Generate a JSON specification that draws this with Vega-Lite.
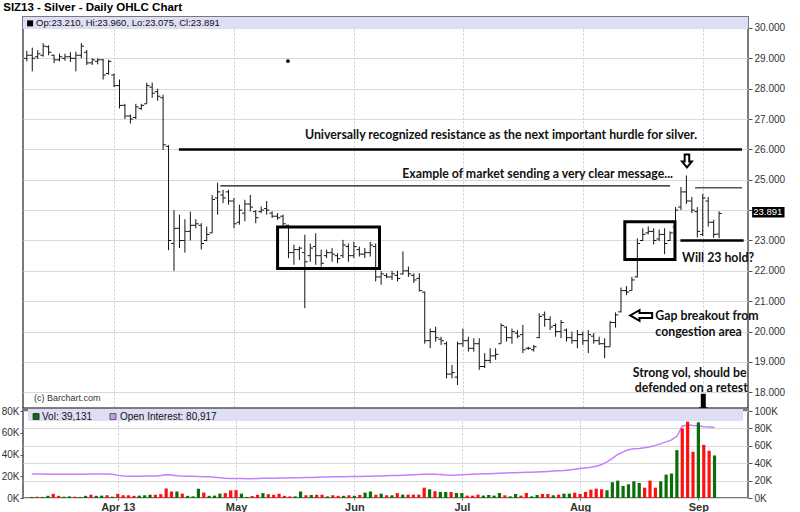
{
"$schema": "https://vega.github.io/schema/vega-lite/v6.json",
"padding": {"left": 0, "top": 1, "right": 5, "bottom": 0},
"background": "#ffffff",
"title": {"text": "SIZ13 - Silver - Daily OHLC Chart", "anchor": "start", "frame": "bounds", "font": "Liberation Sans", "fontSize": 11.5, "fontWeight": "bold", "color": "#000", "offset": 3, "dx": 3},
"spacing": 0,
"bounds": "flush",
"datasets": {"bars": [
{"i":-16,"o":29.0,"h":29.25,"l":28.9,"c":29.1,"v":1000,"up":1,"oi":27600},
{"i":-15,"o":29.1,"h":29.35,"l":28.57,"c":29.0,"v":1200,"up":0,"oi":27500},
{"i":-14,"o":29.05,"h":29.27,"l":28.98,"c":29.15,"v":1000,"up":1,"oi":27500},
{"i":-13,"o":29.1,"h":29.5,"l":29.05,"c":29.4,"v":2000,"up":1,"oi":27400},
{"i":-12,"o":29.38,"h":29.43,"l":29.1,"c":29.2,"v":3800,"up":0,"oi":27300},
{"i":-11,"o":29.1,"h":29.12,"l":28.84,"c":28.95,"v":2000,"up":0,"oi":27400},
{"i":-10,"o":28.95,"h":29.15,"l":28.9,"c":29.05,"v":1200,"up":1,"oi":27300},
{"i":-9,"o":29.0,"h":29.15,"l":28.92,"c":29.05,"v":1500,"up":1,"oi":27200},
{"i":-8,"o":29.05,"h":29.2,"l":28.88,"c":29.0,"v":1200,"up":0,"oi":27200},
{"i":-7,"o":29.0,"h":29.22,"l":28.57,"c":29.1,"v":1000,"up":1,"oi":27300},
{"i":-6,"o":29.1,"h":29.5,"l":29.0,"c":29.4,"v":2000,"up":1,"oi":27400},
{"i":-5,"o":29.2,"h":29.27,"l":28.78,"c":28.85,"v":3000,"up":0,"oi":27500},
{"i":-4,"o":28.85,"h":29.0,"l":28.78,"c":28.95,"v":2000,"up":1,"oi":27500},
{"i":-3,"o":28.9,"h":29.0,"l":28.8,"c":28.95,"v":2200,"up":1,"oi":27600},
{"i":-2,"o":28.95,"h":28.98,"l":28.3,"c":28.45,"v":2500,"up":0,"oi":27500},
{"i":-1,"o":28.5,"h":28.95,"l":28.46,"c":28.9,"v":1200,"up":1,"oi":27400},
{"i":0,"o":28.45,"h":28.5,"l":28.05,"c":28.1,"v":3800,"up":0,"oi":26000},
{"i":1,"o":28.1,"h":28.3,"l":27.35,"c":27.45,"v":2500,"up":0,"oi":25300},
{"i":2,"o":27.45,"h":27.5,"l":27.0,"c":27.1,"v":2500,"up":0,"oi":25100},
{"i":3,"o":27.1,"h":27.15,"l":26.85,"c":27.0,"v":2000,"up":0,"oi":25000},
{"i":4,"o":27.05,"h":27.5,"l":27.0,"c":27.4,"v":2200,"up":1,"oi":25000},
{"i":5,"o":27.35,"h":27.5,"l":27.3,"c":27.45,"v":2500,"up":1,"oi":25200},
{"i":6,"o":27.5,"h":28.2,"l":27.5,"c":28.1,"v":3000,"up":1,"oi":25300},
{"i":7,"o":28.05,"h":28.2,"l":27.7,"c":27.85,"v":3000,"up":0,"oi":25400},
{"i":8,"o":27.9,"h":28.0,"l":27.6,"c":27.75,"v":3500,"up":0,"oi":26000},
{"i":9,"o":27.7,"h":27.8,"l":25.98,"c":26.15,"v":8800,"up":0,"oi":26800},
{"i":10,"o":26.1,"h":26.14,"l":22.68,"c":23.0,"v":6000,"up":0,"oi":26500},
{"i":11,"o":22.9,"h":24.0,"l":22.0,"c":23.4,"v":6000,"up":1,"oi":25600},
{"i":12,"o":23.4,"h":23.85,"l":22.75,"c":23.0,"v":4000,"up":0,"oi":25200},
{"i":13,"o":23.0,"h":23.7,"l":22.6,"c":23.3,"v":2000,"up":1,"oi":25000},
{"i":14,"o":23.3,"h":23.95,"l":23.0,"c":23.5,"v":1500,"up":1,"oi":24900},
{"i":15,"o":23.5,"h":23.7,"l":23.4,"c":23.55,"v":8500,"up":1,"oi":24700},
{"i":16,"o":23.5,"h":23.57,"l":22.7,"c":22.9,"v":5000,"up":0,"oi":24500},
{"i":17,"o":23.0,"h":23.46,"l":22.97,"c":23.2,"v":2000,"up":1,"oi":24300},
{"i":18,"o":23.25,"h":24.5,"l":23.24,"c":24.35,"v":2200,"up":1,"oi":23800},
{"i":19,"o":24.4,"h":24.9,"l":23.85,"c":24.6,"v":4000,"up":1,"oi":23200},
{"i":20,"o":24.5,"h":24.67,"l":24.23,"c":24.4,"v":4500,"up":0,"oi":22700},
{"i":21,"o":24.6,"h":24.67,"l":24.18,"c":24.3,"v":7000,"up":0,"oi":22500},
{"i":22,"o":24.3,"h":24.4,"l":23.4,"c":23.55,"v":7200,"up":0,"oi":22400},
{"i":23,"o":23.6,"h":24.18,"l":23.52,"c":24.0,"v":4000,"up":1,"oi":22300},
{"i":24,"o":23.9,"h":24.34,"l":23.63,"c":24.2,"v":1000,"up":1,"oi":22100},
{"i":25,"o":24.2,"h":24.5,"l":23.96,"c":24.1,"v":1800,"up":0,"oi":22200},
{"i":26,"o":23.95,"h":24.0,"l":23.57,"c":23.75,"v":3000,"up":0,"oi":22400},
{"i":27,"o":23.95,"h":24.12,"l":23.9,"c":24.0,"v":4500,"up":1,"oi":22600},
{"i":28,"o":24.05,"h":24.3,"l":23.85,"c":24.0,"v":3500,"up":0,"oi":22700},
{"i":29,"o":23.9,"h":23.96,"l":23.74,"c":23.8,"v":3000,"up":0,"oi":22800},
{"i":30,"o":23.8,"h":23.9,"l":23.68,"c":23.75,"v":4000,"up":0,"oi":22900},
{"i":31,"o":23.8,"h":23.85,"l":23.46,"c":23.55,"v":2000,"up":0,"oi":23000},
{"i":32,"o":23.5,"h":23.52,"l":22.42,"c":22.6,"v":1500,"up":0,"oi":23200},
{"i":33,"o":22.6,"h":22.86,"l":22.2,"c":22.7,"v":1500,"up":1,"oi":23300},
{"i":34,"o":22.7,"h":22.8,"l":22.36,"c":22.75,"v":6000,"up":1,"oi":23400},
{"i":35,"o":22.6,"h":23.19,"l":20.77,"c":22.3,"v":2500,"up":0,"oi":23500},
{"i":36,"o":22.5,"h":22.9,"l":22.3,"c":22.75,"v":2800,"up":1,"oi":23600},
{"i":37,"o":22.8,"h":23.24,"l":22.2,"c":22.5,"v":3000,"up":0,"oi":23800},
{"i":38,"o":22.5,"h":22.7,"l":22.14,"c":22.25,"v":3000,"up":0,"oi":24000},
{"i":39,"o":22.5,"h":22.7,"l":22.42,"c":22.6,"v":1500,"up":1,"oi":24200},
{"i":40,"o":22.6,"h":22.75,"l":22.3,"c":22.55,"v":2500,"up":0,"oi":24300},
{"i":41,"o":22.5,"h":22.58,"l":22.25,"c":22.4,"v":2000,"up":0,"oi":24400},
{"i":42,"o":22.5,"h":23.02,"l":22.42,"c":22.85,"v":2000,"up":1,"oi":24500},
{"i":43,"o":22.8,"h":22.9,"l":22.3,"c":22.5,"v":2500,"up":0,"oi":24600},
{"i":44,"o":22.5,"h":22.96,"l":22.42,"c":22.8,"v":2000,"up":1,"oi":24700},
{"i":45,"o":22.7,"h":22.8,"l":22.47,"c":22.55,"v":2800,"up":0,"oi":24800},
{"i":46,"o":22.55,"h":22.75,"l":22.42,"c":22.6,"v":5000,"up":1,"oi":25000},
{"i":47,"o":22.6,"h":22.96,"l":22.47,"c":22.85,"v":6000,"up":1,"oi":25100},
{"i":48,"o":22.8,"h":22.9,"l":21.65,"c":21.8,"v":3000,"up":0,"oi":25300},
{"i":49,"o":21.8,"h":22.0,"l":21.54,"c":21.9,"v":4000,"up":1,"oi":25400},
{"i":50,"o":21.85,"h":21.92,"l":21.76,"c":21.8,"v":2500,"up":0,"oi":25600},
{"i":51,"o":21.8,"h":22.0,"l":21.7,"c":21.9,"v":2500,"up":1,"oi":25800},
{"i":52,"o":21.85,"h":22.0,"l":21.65,"c":21.75,"v":4500,"up":0,"oi":26000},
{"i":53,"o":21.9,"h":22.64,"l":21.87,"c":22.0,"v":3100,"up":1,"oi":26200},
{"i":54,"o":22.0,"h":22.14,"l":21.8,"c":21.9,"v":3100,"up":0,"oi":26500},
{"i":55,"o":21.85,"h":21.92,"l":21.6,"c":21.7,"v":3100,"up":0,"oi":26800},
{"i":56,"o":21.75,"h":21.92,"l":21.32,"c":21.35,"v":3100,"up":0,"oi":27000},
{"i":57,"o":21.3,"h":21.32,"l":19.6,"c":19.7,"v":9500,"up":0,"oi":27300},
{"i":58,"o":19.7,"h":20.1,"l":19.45,"c":20.0,"v":8000,"up":1,"oi":27400},
{"i":59,"o":20.0,"h":20.16,"l":19.67,"c":19.8,"v":6200,"up":0,"oi":27200},
{"i":60,"o":19.75,"h":19.83,"l":19.56,"c":19.7,"v":5500,"up":1,"oi":26900},
{"i":61,"o":19.6,"h":19.67,"l":18.46,"c":18.6,"v":5500,"up":1,"oi":26400},
{"i":62,"o":18.6,"h":18.9,"l":18.46,"c":18.65,"v":5500,"up":0,"oi":26100},
{"i":63,"o":18.5,"h":19.67,"l":18.24,"c":19.6,"v":4600,"up":1,"oi":26300},
{"i":64,"o":19.6,"h":20.1,"l":19.5,"c":19.7,"v":4600,"up":1,"oi":26700},
{"i":65,"o":19.7,"h":19.83,"l":19.34,"c":19.45,"v":2200,"up":0,"oi":27000},
{"i":66,"o":19.45,"h":19.78,"l":19.34,"c":19.6,"v":2200,"up":0,"oi":27300},
{"i":67,"o":19.6,"h":19.78,"l":18.74,"c":18.85,"v":3100,"up":0,"oi":27600},
{"i":68,"o":18.85,"h":19.29,"l":18.8,"c":19.05,"v":2200,"up":1,"oi":27800},
{"i":69,"o":19.05,"h":19.45,"l":18.96,"c":19.2,"v":2800,"up":1,"oi":28000},
{"i":70,"o":19.2,"h":19.45,"l":19.07,"c":19.25,"v":2200,"up":1,"oi":28200},
{"i":71,"o":19.6,"h":20.27,"l":19.6,"c":20.2,"v":4600,"up":1,"oi":28500},
{"i":72,"o":20.15,"h":20.16,"l":19.67,"c":19.8,"v":2500,"up":0,"oi":28700},
{"i":73,"o":19.8,"h":20.1,"l":19.6,"c":20.0,"v":1500,"up":1,"oi":28900},
{"i":74,"o":19.95,"h":20.05,"l":19.78,"c":19.85,"v":3700,"up":1,"oi":29100},
{"i":75,"o":19.9,"h":20.22,"l":19.29,"c":19.4,"v":2200,"up":0,"oi":29300},
{"i":76,"o":19.45,"h":19.5,"l":19.4,"c":19.45,"v":4600,"up":0,"oi":29500},
{"i":77,"o":19.4,"h":19.56,"l":19.34,"c":19.5,"v":1500,"up":1,"oi":29700},
{"i":78,"o":19.8,"h":20.6,"l":19.78,"c":20.5,"v":2800,"up":1,"oi":30000},
{"i":79,"o":20.55,"h":20.66,"l":20.16,"c":20.4,"v":3700,"up":0,"oi":30300},
{"i":80,"o":20.4,"h":20.5,"l":20.05,"c":20.15,"v":3700,"up":0,"oi":30600},
{"i":81,"o":20.2,"h":20.27,"l":19.83,"c":20.0,"v":2500,"up":1,"oi":30900},
{"i":82,"o":20.0,"h":20.38,"l":19.78,"c":20.3,"v":3100,"up":0,"oi":31300},
{"i":83,"o":20.05,"h":20.1,"l":19.67,"c":19.8,"v":4000,"up":1,"oi":31700},
{"i":84,"o":19.8,"h":20.0,"l":19.6,"c":19.7,"v":4000,"up":1,"oi":32300},
{"i":85,"o":19.7,"h":20.05,"l":19.45,"c":19.9,"v":4900,"up":0,"oi":33000},
{"i":86,"o":19.9,"h":20.0,"l":19.56,"c":19.7,"v":3700,"up":0,"oi":33800},
{"i":87,"o":19.7,"h":20.05,"l":19.29,"c":19.9,"v":5500,"up":0,"oi":34500},
{"i":88,"o":19.85,"h":19.95,"l":19.6,"c":19.7,"v":7700,"up":0,"oi":35300},
{"i":89,"o":19.7,"h":19.83,"l":19.56,"c":19.6,"v":8600,"up":0,"oi":36500},
{"i":90,"o":19.6,"h":19.78,"l":19.12,"c":19.5,"v":8000,"up":0,"oi":38500},
{"i":91,"o":19.5,"h":20.35,"l":19.5,"c":20.3,"v":7100,"up":1,"oi":41500},
{"i":92,"o":20.3,"h":20.63,"l":20.13,"c":20.55,"v":14500,"up":1,"oi":45500},
{"i":93,"o":20.65,"h":21.45,"l":20.63,"c":21.35,"v":16000,"up":1,"oi":50000},
{"i":94,"o":21.35,"h":21.5,"l":21.2,"c":21.3,"v":11100,"up":1,"oi":53000},
{"i":95,"o":21.35,"h":21.8,"l":21.34,"c":21.7,"v":12600,"up":1,"oi":55500},
{"i":96,"o":21.8,"h":23.07,"l":21.78,"c":22.9,"v":15400,"up":1,"oi":56500},
{"i":97,"o":23.0,"h":23.4,"l":22.98,"c":23.2,"v":13800,"up":1,"oi":57000},
{"i":98,"o":23.25,"h":23.46,"l":23.2,"c":23.3,"v":9500,"up":0,"oi":57800},
{"i":99,"o":23.3,"h":23.4,"l":22.87,"c":23.0,"v":16000,"up":0,"oi":59000},
{"i":100,"o":23.05,"h":23.36,"l":22.98,"c":23.2,"v":9500,"up":0,"oi":60500},
{"i":101,"o":23.2,"h":23.4,"l":22.55,"c":22.9,"v":15400,"up":1,"oi":62500},
{"i":102,"o":23.0,"h":23.3,"l":22.98,"c":23.25,"v":21500,"up":1,"oi":64500},
{"i":103,"o":23.45,"h":24.1,"l":23.4,"c":24.0,"v":22500,"up":1,"oi":66800},
{"i":104,"o":24.1,"h":24.76,"l":24.0,"c":24.6,"v":44000,"up":1,"oi":71000},
{"i":105,"o":24.6,"h":25.14,"l":24.2,"c":24.3,"v":64000,"up":0,"oi":82500},
{"i":106,"o":24.3,"h":24.43,"l":23.9,"c":24.0,"v":70200,"up":0,"oi":84000},
{"i":107,"o":23.95,"h":24.1,"l":23.1,"c":23.3,"v":42500,"up":0,"oi":83300},
{"i":108,"o":23.2,"h":24.54,"l":23.14,"c":24.4,"v":69500,"up":1,"oi":83000},
{"i":109,"o":24.3,"h":24.43,"l":23.46,"c":23.6,"v":48900,"up":0,"oi":82000},
{"i":110,"o":23.6,"h":23.68,"l":23.09,"c":23.2,"v":43400,"up":0,"oi":81500},
{"i":111,"o":23.21,"h":23.96,"l":23.075,"c":23.891,"v":39131,"up":1,"oi":80917}
]},
"vconcat": [
{
"width": 725, "height": 392,
"layer": [
{"data": {"values": [{"a": -16.7, "b": 116.3, "p1": 29.97, "p2": 30.36}]},
 "mark": {"type": "rect", "fill": "#dedef5"},
 "encoding": {
  "x": {"field": "a", "type": "quantitative", "title": null, "scale": {"domain": [-16.7, 116.3], "nice": false, "zero": false},
        "axis": {"values": [0, 22, 44, 64, 86, 108], "labels": false, "ticks": false, "domain": false, "grid": true, "gridDash": [2, 2], "gridColor": "#cdc4e0", "minExtent": 0, "maxExtent": 0}},
  "x2": {"field": "b"},
  "y": {"field": "p1", "type": "quantitative", "title": null, "scale": {"domain": [17.45, 30.36], "nice": false, "zero": false},
        "axis": {"orient": "right", "values": [18, 19, 20, 21, 22, 23, 24, 25, 26, 27, 28, 29, 30], "tickCount": 13, "labelExpr": "datum.value == 24 ? '' : format(datum.value, '.3f')", "labelOverlap": false, "grid": true, "gridColor": "#d9d9d9", "tickSize": 4, "tickColor": "#555", "labelPadding": 2, "domain": false, "labelFont": "Liberation Sans", "labelFontSize": 10, "labelColor": "#333"}},
  "y2": {"field": "p2"}
 }},
{"data": {"name": "bars"},
 "mark": {"type": "rule", "color": "#111", "strokeWidth": 1},
 "encoding": {"x": {"field": "i", "type": "quantitative", "title": null}, "y": {"field": "l", "type": "quantitative", "title": null}, "y2": {"field": "h"}}},
{"data": {"name": "bars"},
 "mark": {"type": "tick", "orient": "horizontal", "size": 2.5, "thickness": 1, "xOffset": -1.5, "color": "#111", "opacity": 1},
 "encoding": {"x": {"field": "i", "type": "quantitative", "title": null}, "y": {"field": "o", "type": "quantitative", "title": null}}},
{"data": {"name": "bars"},
 "mark": {"type": "tick", "orient": "horizontal", "size": 2.5, "thickness": 1, "xOffset": 1.5, "color": "#111", "opacity": 1},
 "encoding": {"x": {"field": "i", "type": "quantitative", "title": null}, "y": {"field": "c", "type": "quantitative", "title": null}}},
{"data": {"values": [{"a": 11.9, "b": 115.2, "p": 26.0}, {"a": 103.9, "b": 115.5, "p": 23.0}]},
 "mark": {"type": "rule", "color": "#000", "strokeWidth": 2.5},
 "encoding": {"x": {"field": "a", "type": "quantitative", "title": null}, "x2": {"field": "b"}, "y": {"field": "p", "type": "quantitative", "title": null}}},
{"data": {"values": [{"a": 19.5, "b": 102, "p": 24.8}]},
 "mark": {"type": "rule", "color": "#111", "strokeWidth": 1.3},
 "encoding": {"x": {"field": "a", "type": "quantitative", "title": null}, "x2": {"field": "b"}, "y": {"field": "p", "type": "quantitative", "title": null}}},
{"data": {"values": [{"a": 106.6, "b": 115.2, "p": 24.74}]},
 "mark": {"type": "rule", "color": "#555", "strokeWidth": 1.5},
 "encoding": {"x": {"field": "a", "type": "quantitative", "title": null}, "x2": {"field": "b"}, "y": {"field": "p", "type": "quantitative", "title": null}}},
{"data": {"values": [{"a": 30.0, "b": 48.7, "p1": 23.44, "p2": 22.08}, {"a": 93.7, "b": 102.9, "p1": 23.62, "p2": 22.37}]},
 "mark": {"type": "rect", "fillOpacity": 0, "stroke": "#000", "strokeWidth": 3},
 "encoding": {"x": {"field": "a", "type": "quantitative", "title": null}, "x2": {"field": "b"}, "y": {"field": "p1", "type": "quantitative", "title": null}, "y2": {"field": "p2"}}},
{"data": {"values": [
   {"t": "Universally recognized resistance as the next important hurdle for silver.", "x": 71.0, "p": 26.47},
   {"t": "Example of market sending a very clear message...", "x": 77.7, "p": 25.18},
   {"t": "Strong vol, should be", "x": 105.6, "p": 18.64},
   {"t": "defended on a retest", "x": 105.9, "p": 18.15}]},
 "mark": {"type": "text", "font": "Lato", "fontWeight": "bold", "fontSize": 12.3, "align": "center", "baseline": "middle", "color": "#111"},
 "encoding": {"x": {"field": "x", "type": "quantitative", "title": null}, "y": {"field": "p", "type": "quantitative", "title": null}, "text": {"field": "t"}}},
{"data": {"values": [
   {"t": "Will 23 hold?", "x": 104.2, "p": 22.43},
   {"t": "Gap breakout from", "x": 99.3, "p": 20.51},
   {"t": "congestion area", "x": 99.3, "p": 19.99}]},
 "mark": {"type": "text", "font": "Lato", "fontWeight": "bold", "fontSize": 12.3, "align": "left", "baseline": "middle", "color": "#111"},
 "encoding": {"x": {"field": "x", "type": "quantitative", "title": null}, "y": {"field": "p", "type": "quantitative", "title": null}, "text": {"field": "t"}}},
{"data": {"values": [{"x": 105.1, "p": 25.62}]},
 "mark": {"type": "point", "shape": "M-0.35,-1L0.35,-1L0.35,0.1L0.75,0.1L0,1L-0.75,0.1L-0.35,0.1Z", "size": 169, "filled": false, "stroke": "#000", "strokeWidth": 2, "opacity": 1},
 "encoding": {"x": {"field": "x", "type": "quantitative", "title": null}, "y": {"field": "p", "type": "quantitative", "title": null}}},
{"data": {"values": [{"x": 96.7, "p": 20.53}]},
 "mark": {"type": "point", "shape": "M1,-0.22L-0.15,-0.22L-0.15,-0.48L-1,0L-0.15,0.48L-0.15,0.22L1,0.22Z", "size": 484, "filled": false, "stroke": "#000", "strokeWidth": 2, "opacity": 1},
 "encoding": {"x": {"field": "x", "type": "quantitative", "title": null}, "y": {"field": "p", "type": "quantitative", "title": null}}},
{"data": {"values": [{"p": 17.45}]},
 "mark": {"type": "rule", "color": "#000", "strokeWidth": 3},
 "encoding": {"y": {"field": "p", "type": "quantitative", "title": null}}},
{"data": {"values": [{"x": 108.1, "p": 17.62}]},
 "mark": {"type": "point", "shape": "M-0.25,-1L0.25,-1L0.25,0.35L0.45,0.35L0,1L-0.45,0.35L-0.25,0.35Z", "size": 400, "filled": true, "color": "#000", "opacity": 1},
 "encoding": {"x": {"field": "x", "type": "quantitative", "title": null}, "y": {"field": "p", "type": "quantitative", "title": null}}},
{"data": {"values": [{"x": 31.9, "p": 28.91}]},
 "mark": {"type": "point", "shape": "circle", "size": 14, "filled": true, "color": "#000", "opacity": 1},
 "encoding": {"x": {"field": "x", "type": "quantitative", "title": null}, "y": {"field": "p", "type": "quantitative", "title": null}}},
{"data": {"values": [{"a": 117.06, "b": 123.0, "p1": 23.76, "p2": 24.1}]},
 "mark": {"type": "rect", "fill": "#000"},
 "encoding": {"x": {"field": "a", "type": "quantitative", "title": null}, "x2": {"field": "b"}, "y": {"field": "p1", "type": "quantitative", "title": null}, "y2": {"field": "p2"}}},
{"data": {"values": [{"t": "23.891", "x": 117.25, "p": 23.93}]},
 "mark": {"type": "text", "font": "Liberation Sans", "fontSize": 9.5, "align": "left", "baseline": "middle", "color": "#fff"},
 "encoding": {"x": {"field": "x", "type": "quantitative", "title": null}, "y": {"field": "p", "type": "quantitative", "title": null}, "text": {"field": "t"}}},
{"data": {"values": [{"x": -15.4, "p": 30.15}]},
 "mark": {"type": "point", "shape": "square", "size": 36, "filled": true, "color": "#000", "opacity": 1},
 "encoding": {"x": {"field": "x", "type": "quantitative", "title": null}, "y": {"field": "p", "type": "quantitative", "title": null}}},
{"data": {"values": [{"t": "Op:23.210, Hi:23.960, Lo:23.075, Cl:23.891", "x": -14.3, "p": 30.15}]},
 "mark": {"type": "text", "font": "Liberation Sans", "fontSize": 9.5, "align": "left", "baseline": "middle", "color": "#111"},
 "encoding": {"x": {"field": "x", "type": "quantitative", "title": null}, "y": {"field": "p", "type": "quantitative", "title": null}, "text": {"field": "t"}}},
{"data": {"values": [{"t": "(c) Barchart.com", "x": -14.7, "p": 17.82}]},
 "mark": {"type": "text", "font": "Liberation Sans", "fontSize": 9, "align": "left", "baseline": "middle", "color": "#333"},
 "encoding": {"x": {"field": "x", "type": "quantitative", "title": null}, "y": {"field": "p", "type": "quantitative", "title": null}, "text": {"field": "t"}}}
]
},
{
"width": 725, "height": 89,
"layer": [
 {"layer": [
  {"data": {"values": [{"a": -16.7, "b": 116.3, "p1": 88500, "p2": 102300}]},
   "mark": {"type": "rect", "fill": "#dedef5"},
   "encoding": {
    "x": {"field": "a", "type": "quantitative", "title": null, "scale": {"domain": [-16.7, 116.3], "nice": false, "zero": false},
          "axis": {"values": [0, 22, 44, 64, 86, 108], "labelExpr": "datum.value == 0 ? 'Apr 13' : datum.value == 22 ? 'May' : datum.value == 44 ? 'Jun' : datum.value == 64 ? 'Jul' : datum.value == 86 ? 'Aug' : 'Sep'", "labelOverlap": false, "labelFont": "Liberation Sans", "labelFontWeight": "bold", "labelFontSize": 11, "labelColor": "#333", "domain": false, "grid": true, "gridDash": [2, 2], "gridColor": "#cdc4e0", "tickSize": 2, "tickColor": "#666", "labelPadding": 1}},
    "x2": {"field": "b"},
    "y": {"field": "p1", "type": "quantitative", "title": null, "scale": {"domain": [0, 102300], "nice": false, "zero": false},
          "axis": {"orient": "right", "values": [0, 20000, 40000, 60000, 80000, 100000], "tickCount": 6, "labelExpr": "format(datum.value / 1000, 'd') + 'K'", "labelOverlap": false, "grid": true, "gridColor": "#d9d9d9", "tickSize": 4, "tickColor": "#555", "labelPadding": 2, "domain": false, "labelFont": "Liberation Sans", "labelFontSize": 10, "labelColor": "#333"}},
    "y2": {"field": "p2"}
   }},
  {"data": {"name": "bars"},
   "mark": {"type": "line", "color": "#c77dff", "strokeWidth": 1.5},
   "encoding": {"x": {"field": "i", "type": "quantitative", "title": null}, "y": {"field": "oi", "type": "quantitative", "title": null}}}
 ]},
 {"layer": [
  {"data": {"name": "bars"},
   "mark": {"type": "bar", "size": 3.2},
   "encoding": {
    "x": {"field": "i", "type": "quantitative", "title": null},
    "y": {"field": "v", "type": "quantitative", "title": null, "scale": {"domain": [0, 81840], "nice": false},
          "axis": {"orient": "left", "values": [0, 20000, 40000, 60000, 80000], "tickCount": 5, "labelExpr": "format(datum.value / 1000, 'd') + 'K'", "labelOverlap": false, "grid": false, "tickSize": 3, "tickColor": "#555", "labelPadding": 1, "domain": false, "labelFont": "Liberation Sans", "labelFontSize": 10, "labelColor": "#333"}},
    "color": {"condition": {"test": "datum.up == 1", "value": "#0b6e0b"}, "value": "#ff1010"}
   }},
  {"data": {"values": [{"x": -15.2, "v": 74900}]},
   "mark": {"type": "point", "shape": "square", "size": 36, "filled": true, "color": "#0b6e0b", "stroke": "#222", "strokeWidth": 0.8, "opacity": 1},
   "encoding": {"x": {"field": "x", "type": "quantitative", "title": null}, "y": {"field": "v", "type": "quantitative", "title": null}}},
  {"data": {"values": [{"x": -0.9, "v": 74900}]},
   "mark": {"type": "point", "shape": "square", "size": 36, "filled": true, "color": "#c89be8", "stroke": "#444", "strokeWidth": 0.8, "opacity": 1},
   "encoding": {"x": {"field": "x", "type": "quantitative", "title": null}, "y": {"field": "v", "type": "quantitative", "title": null}}},
  {"data": {"values": [{"t": "Vol: 39,131", "x": -14.1, "v": 74900}, {"t": "Open Interest: 80,917", "x": 0.4, "v": 74900}]},
   "mark": {"type": "text", "font": "Liberation Sans", "fontSize": 10, "align": "left", "baseline": "middle", "color": "#111"},
   "encoding": {"x": {"field": "x", "type": "quantitative", "title": null}, "y": {"field": "v", "type": "quantitative", "title": null}, "text": {"field": "t"}}}
 ]}
],
"resolve": {"scale": {"y": "independent"}}
}
],
"config": {"view": {"stroke": "#7a7a7a", "strokeWidth": 2}, "axis": {"labelOverlap": false}}
}
